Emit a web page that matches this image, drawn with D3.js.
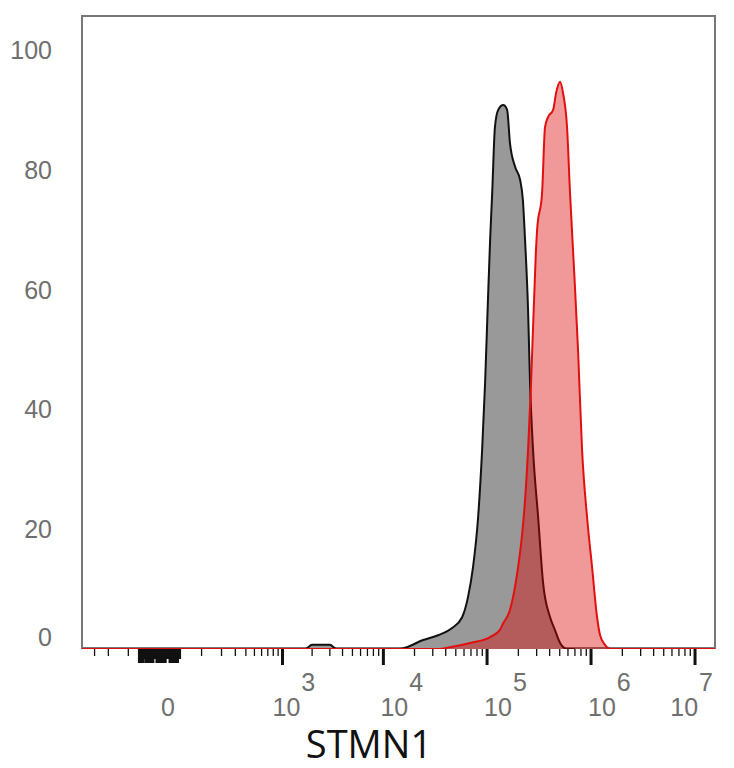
<!DOCTYPE html>
<html>
<head>
<meta charset="utf-8">
<script src="https://cdn.jsdelivr.net/npm/d3@7"></script>
<style>
  body { margin: 0; background: #fff; }
  svg { display: block; }
</style>
</head>
<body>
<svg></svg>
<script>
// histogram series (channel value, % of max)
const grayX = [1500, 1700, 2000, 3000, 3500, 14500, 16200, 24200, 33700, 46000, 57500, 65600, 73300, 82000, 89600, 95700, 102000, 107000, 112000, 119000, 128000, 143000, 156000, 166000, 186000, 208000, 221000, 232000, 248000, 259000, 277000, 310000, 346000, 404000, 449000, 504000, 588000, 700000];
const grayY = [0, 0, 0.7, 0.7, 0, 0, 0.2, 1.5, 2.3, 3.5, 5.3, 8.7, 13.7, 22.0, 33.2, 44.4, 58.3, 68.3, 76.1, 87.1, 90.0, 90.8, 90.0, 84.5, 80.5, 78.3, 75.0, 68.3, 56.6, 44.4, 33.2, 22.0, 11.0, 5.3, 3.2, 1.0, 0, 0];

const redX = [-422, 35000, 41300, 68700, 107000, 133000, 143000, 166000, 199000, 217000, 232000, 248000, 265000, 294000, 303000, 338000, 361000, 386000, 432000, 461000, 504000, 538000, 588000, 628000, 687000, 750000, 820000, 916000, 1023000, 1143000, 1222000, 1365000, 1524000, 1900000, 15560000];
const redY = [0, 0, 0.2, 1.0, 2.0, 3.2, 4.3, 6.5, 13.7, 19.0, 24.9, 33.2, 44.4, 65.8, 70.0, 76.1, 87.1, 88.8, 90.0, 92.8, 94.7, 92.8, 87.1, 76.1, 63.3, 49.9, 33.2, 22.0, 13.7, 5.3, 2.3, 0.7, 0, 0, 0];

// axis ticks
const yTicks = [0, 20, 40, 60, 80, 100];
const xMajor = [1e3, 1e4, 1e5, 1e6, 1e7];
const xMinorNeg = [-300, -200, -100];
const xZeroBand = [-60, -55, -50, -45, -40, -35, -30, -25, -20, -15, -10, -5, 0, 5, 10, 15, 20, 25, 30];
const xMinorPos = [100, 200, 300, 400, 500, 600, 700, 800, 900,
  2e3, 3e3, 4e3, 5e3, 6e3, 7e3, 8e3, 9e3,
  2e4, 3e4, 4e4, 5e4, 6e4, 7e4, 8e4, 9e4,
  2e5, 3e5, 4e5, 5e5, 6e5, 7e5, 8e5, 9e5,
  2e6, 3e6, 4e6, 5e6, 6e6, 7e6, 8e6, 9e6];
const xTitle = "STMN1";

const W = 734, H = 768;
const m = { left: 82, top: 16, right: 715, bottom: 648 };

const svg = d3.select("svg").attr("width", W).attr("height", H);

const x = d3.scaleSymlog().constant(80)
  .domain([-422, 15560000])
  .range([m.left, m.right]);
const y = d3.scaleLinear().domain([0, 100]).range([649, 50]);

const gray = grayX.map((v, i) => ({ x: v, y: grayY[i] }));
const red = redX.map((v, i) => ({ x: v, y: redY[i] }));

const area = d3.area()
  .x(d => x(d.x)).y0(y(0)).y1(d => y(d.y))
  .curve(d3.curveMonotoneX);
const line = d3.line()
  .x(d => x(d.x)).y(d => y(d.y))
  .curve(d3.curveMonotoneX);

svg.append("clipPath").attr("id", "plot")
  .append("rect")
  .attr("x", m.left).attr("y", m.top)
  .attr("width", m.right - m.left).attr("height", m.bottom - m.top + 1);

// frame
svg.append("rect")
  .attr("x", m.left).attr("y", m.top)
  .attr("width", m.right - m.left).attr("height", m.bottom - m.top)
  .attr("fill", "none").attr("stroke", "#777").attr("stroke-width", 2);

const plot = svg.append("g").attr("clip-path", "url(#plot)");

plot.append("path").datum(gray)
  .attr("d", area).attr("fill", "#999");
plot.append("path").datum(gray)
  .attr("d", line).attr("fill", "none")
  .attr("stroke", "#111").attr("stroke-width", 2);

plot.append("path").datum(red)
  .attr("d", area).attr("fill", "rgba(220,0,0,0.4)");
plot.append("path").datum(red)
  .attr("d", line).attr("fill", "none")
  .attr("stroke", "#e01010").attr("stroke-width", 2);

// y labels
const labFont = "Liberation Sans, Arial, sans-serif";
svg.append("g").selectAll("text")
  .data(yTicks)
  .join("text")
  .attr("x", 52)
  .attr("y", d => d === 0 ? y(d) - 12 : y(d))
  .attr("dy", "0.36em")
  .attr("text-anchor", "end")
  .attr("font-family", labFont)
  .attr("font-size", 25)
  .attr("fill", "#6f6f6f")
  .text(d => d);

// x ticks
const ticks = svg.append("g").attr("stroke", "#111");
ticks.selectAll(".minor")
  .data(xMinorNeg.concat(xMinorPos))
  .join("line")
  .attr("x1", d => x(d)).attr("x2", d => x(d))
  .attr("y1", m.bottom + 1).attr("y2", m.bottom + 8)
  .attr("stroke-width", 1.3);
ticks.selectAll(".zero")
  .data(xZeroBand)
  .join("line")
  .attr("x1", d => x(d)).attr("x2", d => x(d))
  .attr("y1", m.bottom + 1).attr("y2", (d, i) => m.bottom + (i % 5 === 3 ? 11 : 15))
  .attr("stroke-width", 3.5);
ticks.selectAll(".major")
  .data(xMajor)
  .join("line")
  .attr("x1", d => x(d)).attr("x2", d => x(d))
  .attr("y1", m.bottom + 1).attr("y2", m.bottom + 17)
  .attr("stroke-width", 3);

// x labels
svg.append("text")
  .attr("x", x(0) + 3).attr("y", 716)
  .attr("text-anchor", "middle")
  .attr("font-family", labFont).attr("font-size", 25)
  .attr("fill", "#6f6f6f")
  .text("0");

xMajor.forEach(v => {
  const t = svg.append("text")
    .attr("y", 716)
    .attr("font-family", labFont).attr("font-size", 25)
    .attr("fill", "#6f6f6f");
  t.append("tspan").text("10");
  t.append("tspan").attr("dx", 1).attr("dy", -25).text(Math.round(Math.log10(v)));
  const w = t.node().getComputedTextLength() + 1;
  let sx = x(v) - (v === 1e3 ? 10 : 3);
  if (sx + w > m.right - 2) sx = m.right - 2 - w;
  t.attr("x", sx);
});

// axis title
svg.append("text")
  .attr("x", 369).attr("y", 758)
  .attr("text-anchor", "middle")
  .attr("font-family", "Open Sans, sans-serif")
  .attr("font-size", 38)
  .attr("fill", "#111")
  .text(xTitle);
</script>
</body>
</html>
